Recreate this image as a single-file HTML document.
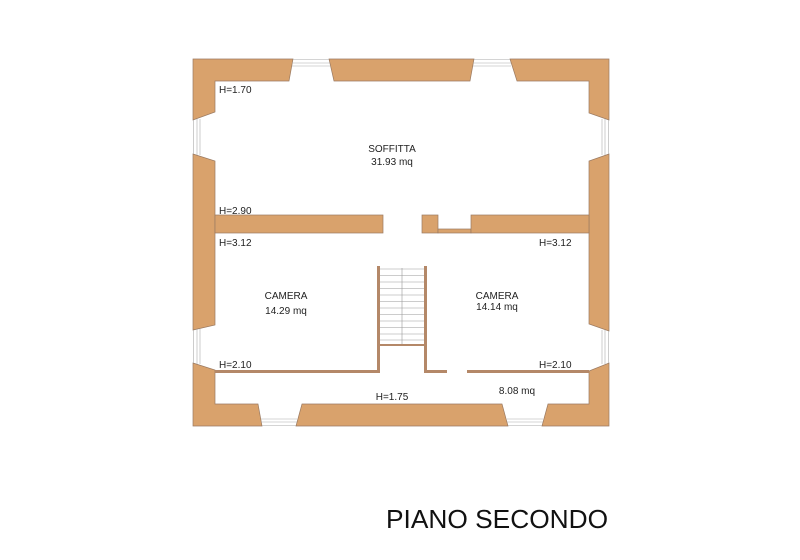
<!DOCTYPE html>
<html><head><meta charset="utf-8"><style>
html,body{margin:0;padding:0;background:#fff;}
svg{display:block;}
text{font-family:"Liberation Sans",Arial,sans-serif;fill:#222;}
</style></head><body>
<svg width="800" height="560" viewBox="0 0 800 560" xmlns="http://www.w3.org/2000/svg">
<g fill="#d9a26c" stroke="#9a7a62" stroke-width="0.7">
<polygon points="193,59 293,59 289,81 215,81 215,112 193,120"/>
<polygon points="329,59 474,59 470,81 334,81"/>
<polygon points="510,59 609,59 609,120 589,113 589,81 517,81"/>
<polygon points="193,154 215,161 215,325 193,330"/>
<polygon points="609,154 589,161 589,324 609,331"/>
<polygon points="193,363 215,370 215,404 258,404 262,426 193,426"/>
<polygon points="296,426 302,404 502,404 508,426"/>
<polygon points="542,426 548,404 589,404 589,371 609,363 609,426"/>
<rect x="215" y="215" width="168" height="18"/>
<rect x="422" y="215" width="16" height="18"/>
<rect x="438" y="229" width="33" height="4"/>
<rect x="471" y="215" width="118" height="18"/>
</g>
<g fill="#b48868" stroke="none">
<rect x="215" y="370" width="165" height="3"/>
<rect x="377" y="266" width="3" height="107"/>
<rect x="424" y="266" width="3" height="107"/>
<rect x="427" y="370" width="20" height="3"/>
<rect x="467" y="370" width="122" height="3"/>
<rect x="380" y="344" width="44" height="2"/>
</g>
<g stroke="#999" stroke-width="0.6">
<line x1="380" y1="269" x2="424" y2="269"/><line x1="380" y1="275.5" x2="424" y2="275.5"/>
<line x1="380" y1="282" x2="424" y2="282"/><line x1="380" y1="288.5" x2="424" y2="288.5"/>
<line x1="380" y1="295" x2="424" y2="295"/><line x1="380" y1="301.5" x2="424" y2="301.5"/>
<line x1="380" y1="308" x2="424" y2="308"/><line x1="380" y1="314.5" x2="424" y2="314.5"/>
<line x1="380" y1="321" x2="424" y2="321"/><line x1="380" y1="327.5" x2="424" y2="327.5"/>
<line x1="380" y1="334" x2="424" y2="334"/><line x1="380" y1="340" x2="424" y2="340"/>
<line x1="402" y1="268" x2="402" y2="344"/>
</g>
<g stroke="#aaa" stroke-width="0.6" fill="none">
<line x1="293" y1="59.5" x2="329" y2="59.5"/><line x1="292" y1="63" x2="330" y2="63"/><line x1="292" y1="66" x2="330" y2="66"/>
<line x1="474" y1="59.5" x2="510" y2="59.5"/><line x1="473" y1="63" x2="511" y2="63"/><line x1="473" y1="66" x2="511" y2="66"/>
<line x1="193.5" y1="120" x2="193.5" y2="154"/><line x1="197" y1="119" x2="197" y2="155"/><line x1="200" y1="119" x2="200" y2="155"/>
<line x1="193.5" y1="330" x2="193.5" y2="363"/><line x1="197" y1="329" x2="197" y2="364"/><line x1="200" y1="329" x2="200" y2="364"/>
<line x1="608.5" y1="120" x2="608.5" y2="154"/><line x1="605" y1="119" x2="605" y2="155"/><line x1="602" y1="119" x2="602" y2="155"/>
<line x1="608.5" y1="331" x2="608.5" y2="363"/><line x1="605" y1="330" x2="605" y2="364"/><line x1="602" y1="330" x2="602" y2="364"/>
<line x1="262" y1="425.5" x2="296" y2="425.5"/><line x1="261" y1="422" x2="297" y2="422"/><line x1="261" y1="419" x2="297" y2="419"/>
<line x1="508" y1="425.5" x2="542" y2="425.5"/><line x1="507" y1="422" x2="543" y2="422"/><line x1="507" y1="419" x2="543" y2="419"/>
</g>
<g font-size="10">
<text x="219" y="93">H=1.70</text>
<text x="392" y="152" text-anchor="middle">SOFFITTA</text>
<text x="392" y="165" text-anchor="middle">31.93 mq</text>
<text x="219" y="214">H=2.90</text>
<text x="219" y="246">H=3.12</text>
<text x="539" y="246">H=3.12</text>
<text x="286" y="299" text-anchor="middle">CAMERA</text>
<text x="286" y="314" text-anchor="middle">14.29 mq</text>
<text x="497" y="299" text-anchor="middle">CAMERA</text>
<text x="497" y="310" text-anchor="middle">14.14 mq</text>
<text x="219" y="368">H=2.10</text>
<text x="539" y="368">H=2.10</text>
<text x="392" y="400" text-anchor="middle">H=1.75</text>
<text x="517" y="394" text-anchor="middle">8.08 mq</text>
</g>
<text x="386" y="528" font-size="26.3" style="fill:#111">PIANO SECONDO</text>
</svg>
</body></html>
